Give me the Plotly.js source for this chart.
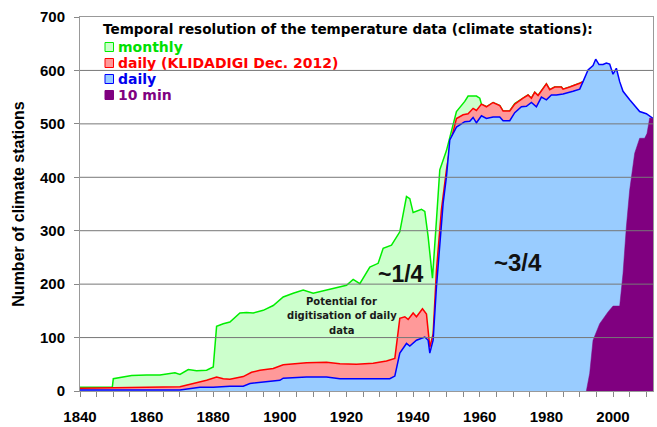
<!DOCTYPE html>
<html>
<head>
<meta charset="utf-8">
<script src="https://cdn.plot.ly/plotly-3.0.1.min.js"></script>
<style>html,body{margin:0;padding:0;background:#fff;}#chart{width:657px;height:427px;}</style>
</head>
<body>
<div id="chart"></div>
<script>
// ---- data ----
const monthlyYears = [1840,1849.7,1850,1852,1855.5,1860,1864,1866,1868.5,1870,1872.5,1875,1878,1880,1881,1883,1885,1888,1890,1892,1895,1898,1901,1904,1907,1910,1914,1918,1920,1922,1924,1927,1929.5,1931,1933.5,1936,1938,1939,1940,1942.5,1943.5,1944.5,1945.8,1947,1948,1950,1951,1953,1955.5,1956.5,1959,1960,1960.5,1962,1964,1966,1967,1969,1970.5,1973,1974.5,1975.5,1976.5,1977.5,1980,1981,1982.5,1984.5,1985,1987,1989,1990,1991];
const monthlyVals  = [7,7,23,25,29,30,30,32,34,31,40,38,39,45,121,126,129,146,147,146,151,160,176,183,189,183,189,195,198,209,201,232,239,267,273,298,364,360,334,340,336,289,211,320,414,450,476,523,542,552,552,548,537,532,540,534,524,524,538,548,554,548,559,553,575,564,569,569,565,569,573,576,579];

const klidYears = [1840,1870,1874,1878,1881,1883,1885,1889,1891.5,1894,1898,1901,1908,1914,1918,1923,1928,1932,1934.5,1936,1937.5,1938.5,1940,1941,1942.8,1944,1945,1946,1947,1948.5,1950,1951.5,1953,1955,1956.5,1958,1959,1960.5,1962,1964,1966,1967,1969,1970.5,1973,1974.5,1975.5,1976.5,1977.5,1980,1981,1982.5,1984.5,1985,1987,1989,1990,1991];
const klidVals  = [5,8,14,20,26,23,22,27,35,39,42,49,53,54,51,50,52,56,61,136,139,134,146,139,154,144,82,107,226,340,414,473,510,517,519,529,525,537,532,540,534,524,524,537,548,554,548,559,553,575,564,569,569,565,569,573,576,579];

const dailyYears = [1840,1870,1876,1880,1885,1889,1891,1894,1900,1901,1908,1914,1918,1928,1933,1934.5,1936,1938,1939,1941,1943.5,1944.5,1945,1946,1947,1949,1950,1951,1953,1955.5,1957,1958,1959,1960.5,1962,1964,1966,1967,1969,1970.5,1972.5,1974,1975.5,1977,1978.5,1980,1981.5,1983,1985,1988,1990,1991,1992.5,1994,1994.8,1995.8,1997,1998,1999,2000,2001,2002,2003,2005,2007,2008,2010,2011.3,2012];
const dailyVals  = [2,2,7,7,9,9,14,16,20,24,26,26,23,23,23,28,71,89,84,95,101,95,71,95,195,351,401,470,494,504,505,512,502,515,510,513,513,506,506,521,532,533,540,532,550,545,554,554,556,561,565,579,601,609,621,611,611,614,612,593,604,579,561,545,531,523,519,512,510];

const tenMinYears = [1992,1993,1994,1996,1998.5,2000,2002,2003,2004,2005,2006.5,2008,2009.5,2010.2,2011,2012];
const tenMinVals  = [0,33,95,126,148,159,159,220,307,376,445,473,473,482,511,510];

const seriesNames = ["monthly", "daily (KLIDADIGI Dec. 2012)", "daily", "10 min"];
const legendTitle = "Temporal resolution of the temperature data (climate stations):";
const yTitle = "Number of climate stations";
const noteLines = ["Potential for", "digitisation of daily", "data"];
const quarterLabels = ["~1/4", "~3/4"];
const gridValues = [100,200,300,400,500,600];

// ---- styling / layout ----
const L=80, R=653, T=17, B=391, W=657, H=427;
const px = x => (x-L)/(R-L);
const py = y => (B-y)/(B-T);

const lineCols = ["#00ee00", "#ff0000", "#0000ff", "#800080"];
const fillCols = ["#ccffcc", "#ff9999", "#99ccff", "#800080"];
const textCols = ["#00e000", "#ff0000", "#0000ee", "#800080"];

function area(x, y, i, lw){
  return {x:x, y:y, type:'scatter', mode:'lines', fill:'tozeroy',
    fillcolor:fillCols[i], line:{color:lineCols[i], width:lw, shape:'linear'},
    name:seriesNames[i], hoverinfo:'skip', showlegend:false};
}
const traces = [
  area(monthlyYears, monthlyVals, 0, 1.5),
  area(klidYears, klidVals, 1, 1.5),
  area(dailyYears, dailyVals, 2, 1.5),
  area(tenMinYears, tenMinVals, 3, 0.5)
];

const shapes = [];
gridValues.forEach(v => shapes.push({type:'line', xref:'paper', yref:'y', x0:0, x1:1, y0:v, y1:v,
  line:{color:'#777777', width:1}, layer:'above'}));
// legend swatches
const legY = [47, 63, 79, 95];
legY.forEach((c,i) => shapes.push({type:'rect', xref:'paper', yref:'paper',
  x0:px(105), x1:px(113.5), y0:py(c+4.5), y1:py(c-4.5),
  fillcolor:fillCols[i], line:{color:lineCols[i], width:1}, layer:'above'}));

const legFont = 'DejaVu Sans, Verdana, sans-serif';
const annotations = [
  {xref:'paper', yref:'paper', x:px(102), y:py(29), xanchor:'left', yanchor:'middle', showarrow:false, borderpad:0,
   text:legendTitle, font:{family:legFont, size:13.6, color:'#000', weight:'bold'}},
];
legY.forEach((c,i) => annotations.push({xref:'paper', yref:'paper', x:px(117), y:py(c), xanchor:'left', yanchor:'middle',
   showarrow:false, borderpad:0, text:seriesNames[i], font:{family:legFont, size:14, color:textCols[i], weight:'bold'}}));
const noteY = [301, 315.7, 330.3];
noteLines.forEach((t,k) => annotations.push({xref:'x', yref:'paper', x:1918.5, y:py(noteY[k]), showarrow:false, borderpad:0,
   text:t, yanchor:'middle', font:{family:legFont, size:10, color:'#1a1a1a', weight:'bold'}}));
annotations.push({xref:'x', yref:'y', x:1936.3, y:219, showarrow:false, text:quarterLabels[0],
   font:{family:'Liberation Sans, Arial, sans-serif', size:23, color:'#111', weight:'bold'}});
annotations.push({xref:'x', yref:'y', x:1971.4, y:241, showarrow:false, text:quarterLabels[1],
   font:{family:'Liberation Sans, Arial, sans-serif', size:24, color:'#111', weight:'bold'}});

const tickFont = {family:'Liberation Sans, Arial, sans-serif', size:15, color:'#000', weight:'bold'};
const layout = {
  width:W, height:H,
  margin:{l:L, r:W-R, t:T, b:H-B, pad:0},
  paper_bgcolor:'#fff', plot_bgcolor:'#fff',
  showlegend:false,
  xaxis:{range:[1840,2012], tick0:1840, dtick:20, ticks:'outside', ticklen:5, tickcolor:'#888',
    tickfont:tickFont, ticklabelstandoff:7, showgrid:false, zeroline:false,
    showline:true, linecolor:'#999', linewidth:1, mirror:true,
    minor:{dtick:5, tick0:1840, ticks:'outside', ticklen:5, tickcolor:'#888', showgrid:false}},
  yaxis:{range:[0,700], tick0:0, dtick:100, ticks:'outside', ticklen:5, tickcolor:'#888',
    tickfont:tickFont, ticklabelstandoff:6, showgrid:false, zeroline:false,
    showline:true, linecolor:'#999', linewidth:1, mirror:true,
    title:{text:yTitle, standoff:11, font:{family:'Liberation Sans, Arial, sans-serif', size:16, color:'#000', weight:'bold'}}},
  shapes:shapes,
  annotations:annotations
};
Plotly.newPlot('chart', traces, layout, {displayModeBar:false, staticPlot:true});
</script>
</body>
</html>
